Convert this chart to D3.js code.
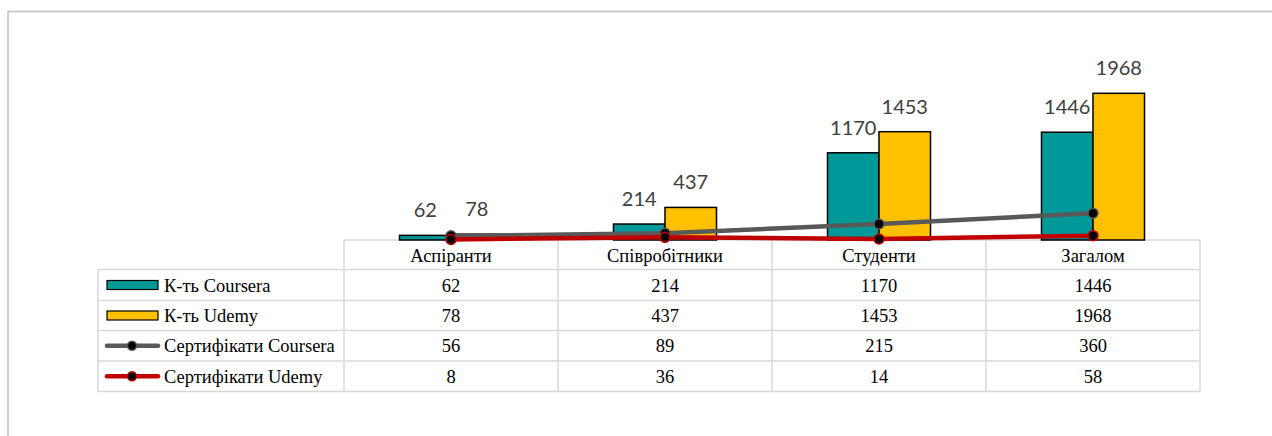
<!DOCTYPE html>
<html>
<head>
<meta charset="utf-8">
<script src="https://cdn.jsdelivr.net/npm/d3@7"></script>
<style>
  body { margin: 0; background: #fff; }
  svg { display: block; }
  .tbl { font-family: "Liberation Serif", "Times New Roman", Times, serif; font-size: 18.5px; fill: #000; }
  .lbl { font-family: Lato, "Open Sans", sans-serif; font-size: 20px; fill: #404040; }
</style>
</head>
<body>
<script>
// data
var categories = ["Аспіранти", "Співробітники", "Студенти", "Загалом"];
var courseraCount = [62, 214, 1170, 1446];
var udemyCount = [78, 437, 1453, 1968];
var courseraCert = [56, 89, 215, 360];
var udemyCert = [8, 36, 14, 58];
var seriesNames = ["К-ть Coursera", "К-ть Udemy", "Сертифікати Coursera", "Сертифікати Udemy"];

var width = 1272, height = 436;
var svg = d3.select("body").append("svg")
  .attr("width", width)
  .attr("height", height);

// chart frame (only top and left visible)
svg.append("path")
  .attr("d", "M8,436 V11.5 H1272")
  .attr("fill", "none")
  .attr("stroke", "#bfbfbf")
  .attr("stroke-width", 1.5);

var tableLeft = 98, colLeft = 344, tableRight = 1200;
var baseY = 240;
var rowYs = [240, 269.5, 300.5, 330.5, 361, 391.5];

var x = d3.scaleBand().domain(categories).range([colLeft, tableRight]);
var y = d3.scaleLinear().domain([0, 2500]).range([baseY, baseY - 2500 * 0.07454]);
var xs = d3.scaleBand().domain(["c", "u"]).range([-51.5, 51.5]);

var cx = function(i) { return x(categories[i]) + x.bandwidth() / 2; };

var teal = "#009999", gold = "#ffc000", grey = "#595959", red = "#c00000";

// table grid
var grid = svg.append("g").attr("stroke", "#d9d9d9").attr("stroke-width", 1.5).attr("fill", "none");
// header row (no legend cell)
grid.append("line").attr("x1", colLeft).attr("x2", tableRight).attr("y1", rowYs[0]).attr("y2", rowYs[0]);
for (var r = 1; r < rowYs.length; r++) {
  grid.append("line").attr("x1", tableLeft).attr("x2", tableRight).attr("y1", rowYs[r]).attr("y2", rowYs[r]);
}
grid.append("line").attr("x1", tableLeft).attr("x2", tableLeft).attr("y1", rowYs[1]).attr("y2", rowYs[5]);
categories.forEach(function(c) {
  grid.append("line").attr("x1", x(c)).attr("x2", x(c)).attr("y1", rowYs[0]).attr("y2", rowYs[5]);
});
grid.append("line").attr("x1", tableRight).attr("x2", tableRight).attr("y1", rowYs[0]).attr("y2", rowYs[5]);

// table text
svg.append("g").selectAll("text")
  .data(categories)
  .enter().append("text")
  .attr("class", "tbl")
  .attr("x", function(d) { return x(d) + x.bandwidth() / 2; })
  .attr("y", (rowYs[0] + rowYs[1]) / 2 + 7.5)
  .attr("text-anchor", "middle")
  .text(function(d) { return d; });

var rows = [courseraCount, udemyCount, courseraCert, udemyCert];
rows.forEach(function(vals, ri) {
  var cy = (rowYs[ri + 1] + rowYs[ri + 2]) / 2;
  svg.append("g").selectAll("text")
    .data(vals)
    .enter().append("text")
    .attr("class", "tbl")
    .attr("x", function(d, i) { return cx(i); })
    .attr("y", cy + 6.5)
    .attr("text-anchor", "middle")
    .text(function(d) { return d; });

  // legend key
  if (ri < 2) {
    svg.append("rect")
      .attr("x", 107).attr("y", cy - 4.5)
      .attr("width", 51).attr("height", 9)
      .attr("fill", ri == 0 ? teal : gold)
      .attr("stroke", "#000").attr("stroke-width", 1.2);
  } else {
    var col = ri == 2 ? grey : red;
    svg.append("line")
      .attr("x1", 107).attr("x2", 158).attr("y1", cy).attr("y2", cy)
      .attr("stroke", col).attr("stroke-width", 4.5).attr("stroke-linecap", "round");
    svg.append("circle")
      .attr("cx", 132).attr("cy", cy).attr("r", 4.5)
      .attr("fill", "#000").attr("stroke", col).attr("stroke-width", 1.5);
  }
  svg.append("text")
    .attr("class", "tbl")
    .attr("x", 164).attr("y", cy + 6.5)
    .text(seriesNames[ri]);
});

// bars
var bars = svg.append("g");
[[courseraCount, "c", teal], [udemyCount, "u", gold]].forEach(function(s) {
  bars.selectAll(null)
    .data(s[0])
    .enter().append("rect")
    .attr("x", function(d, i) { return cx(i) + xs(s[1]); })
    .attr("y", function(d) { return y(d); })
    .attr("width", xs.bandwidth())
    .attr("height", function(d) { return baseY - y(d); })
    .attr("fill", s[2])
    .attr("stroke", "#000")
    .attr("stroke-width", 1.5);

  bars.selectAll(null)
    .data(s[0])
    .enter().append("text")
    .attr("class", "lbl")
    .attr("x", function(d, i) { return cx(i) + xs(s[1]) + xs.bandwidth() / 2; })
    .attr("y", function(d) { return y(d) - 18; })
    .attr("text-anchor", "middle")
    .text(function(d) { return d; });
});

// lines
var line = d3.line()
  .x(function(d, i) { return cx(i); })
  .y(function(d) { return y(d); });

[[courseraCert, grey], [udemyCert, red]].forEach(function(s) {
  svg.append("path")
    .datum(s[0])
    .attr("d", line)
    .attr("fill", "none")
    .attr("stroke", s[1])
    .attr("stroke-width", 4.5)
    .attr("stroke-linecap", "round");
  svg.append("g").selectAll("circle")
    .data(s[0])
    .enter().append("circle")
    .attr("cx", function(d, i) { return cx(i); })
    .attr("cy", function(d) { return y(d); })
    .attr("r", 5)
    .attr("fill", "#000")
    .attr("stroke", s[1])
    .attr("stroke-width", 1.5);
});
</script>
</body>
</html>
